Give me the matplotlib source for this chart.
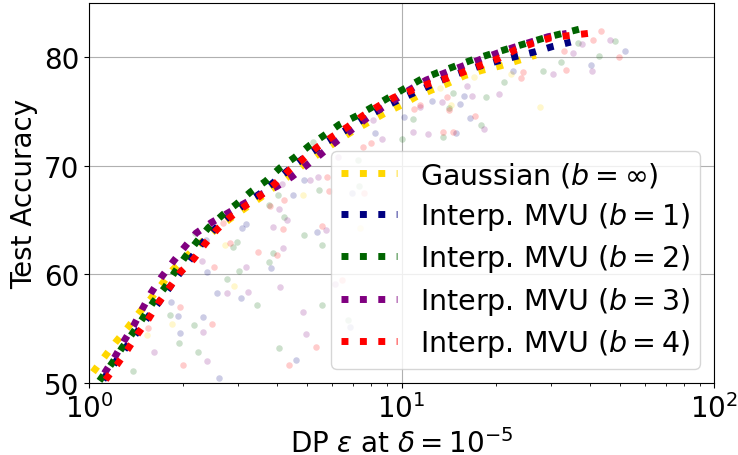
import matplotlib
matplotlib.use("Agg")
import matplotlib.pyplot as plt

# ---- main curves (epsilon, test accuracy) ----
gauss_eps = [1.03, 1.12, 1.22, 1.33, 1.44, 1.57, 1.71, 1.85, 2.04, 2.24, 2.51, 2.82, 3.16, 3.55,
             3.98, 4.47, 5.01, 5.62, 6.31, 7.08, 7.94, 8.91, 10.0, 11.2, 12.3, 14.1, 15.9, 18.1,
             20.7, 23.6, 26.9]
gauss_acc = [51.0, 52.4, 53.8, 55.1, 56.4, 57.7, 59.1, 60.4, 61.6, 62.7, 64.0, 65.1, 66.1, 67.1,
             68.2, 69.3, 70.4, 71.4, 72.4, 73.3, 74.1, 74.9, 75.6, 76.4, 76.9, 77.6, 78.3, 78.8,
             79.2, 79.7, 80.2]

mvu1_eps = [1.11, 1.20, 1.30, 1.41, 1.53, 1.66, 1.80, 1.95, 2.11, 2.29, 2.51, 2.82, 3.16, 3.55,
            3.98, 4.47, 5.01, 5.62, 6.31, 7.08, 7.94, 8.91, 10.0, 11.5, 13.2, 15.1, 17.4, 20.0,
            23.4, 26.7, 30.5, 34.8]
mvu1_acc = [50.3, 51.7, 53.1, 54.5, 55.9, 57.3, 58.7, 60.1, 61.4, 62.8, 64.1, 65.4, 66.5, 67.5,
            68.7, 69.9, 71.0, 72.0, 72.9, 73.8, 74.7, 75.5, 76.2, 77.0, 77.8, 78.5, 79.1, 79.6,
            80.1, 80.5, 81.0, 81.4]

mvu2_eps = [1.08, 1.19, 1.28, 1.38, 1.49, 1.61, 1.75, 1.88, 2.03, 2.21, 2.41, 2.68, 2.97, 3.29,
            3.68, 4.08, 4.56, 5.09, 5.65, 6.32, 7.19, 8.05, 9.12, 10.2, 11.6, 13.1, 14.9, 17.0,
            19.3, 22.0, 25.2, 28.8, 32.8, 37.2]
mvu2_acc = [50.2, 51.9, 53.3, 54.6, 56.0, 57.5, 58.8, 60.2, 61.6, 63.0, 64.3, 65.5, 66.5, 67.6,
            68.6, 69.8, 70.8, 71.9, 72.8, 73.8, 74.6, 75.4, 76.3, 77.1, 78.0, 78.6, 79.2, 79.8,
            80.3, 80.8, 81.3, 81.8, 82.2, 82.6]

mvu3_eps = [1.12, 1.21, 1.29, 1.39, 1.48, 1.58, 1.70, 1.85, 2.02, 2.20, 2.47, 2.76, 3.08, 3.51,
            3.99, 4.46, 4.94, 5.48, 6.10, 6.84, 7.59, 8.51, 9.42, 10.6, 12.0, 13.6, 15.4, 17.5,
            19.9, 22.8, 25.9, 29.5, 33.8]
mvu3_acc = [50.9, 52.4, 53.8, 55.3, 56.8, 58.3, 59.7, 61.1, 62.5, 63.8, 64.8, 65.6, 66.4, 67.3,
            68.1, 69.0, 70.0, 71.0, 72.1, 73.2, 74.2, 75.2, 76.0, 77.0, 77.9, 78.5, 79.1, 79.7,
            80.3, 80.9, 81.4, 81.9, 82.2]

mvu4_eps = [1.13, 1.23, 1.33, 1.43, 1.55, 1.67, 1.81, 1.96, 2.16, 2.35, 2.56, 2.81, 3.16, 3.52,
            3.92, 4.37, 4.83, 5.36, 6.01, 6.73, 7.50, 8.43, 9.46, 10.9, 12.3, 14.1, 16.0, 18.1,
            20.5, 23.2, 26.4, 30.1, 34.4, 39.6]
mvu4_acc = [50.3, 51.7, 53.1, 54.5, 55.9, 57.4, 58.8, 60.2, 61.4, 62.8, 64.1, 65.2, 66.3, 67.2,
            68.3, 69.6, 70.6, 71.7, 72.7, 73.6, 74.6, 75.5, 76.3, 77.0, 77.6, 78.1, 78.7, 79.3,
            79.9, 80.7, 81.3, 81.8, 82.0, 82.2]

# ---- faint scattered runs ----
gauss_sc_eps = [1.53, 1.85, 2.91, 2.73, 4.83, 7.37, 13.3, 14.4, 17.0, 22.4, 27.7]
gauss_sc_acc = [54.4, 55.4, 58.9, 62.7, 67.3, 64.3, 77.2, 75.6, 78.2, 78.5, 75.4]

mvu1_sc_eps = [2.61, 1.96, 1.92, 2.32, 1.83, 2.56, 3.06, 4.60, 2.38, 3.81, 3.08, 3.18, 5.37, 2.36,
               4.51, 4.88, 6.93, 8.25, 10.2, 12.5, 14.9, 15.4, 15.8, 16.6, 22.7, 40.3, 52.0, 6.85]
mvu1_sc_acc = [50.5, 54.6, 56.2, 56.1, 57.5, 58.3, 57.8, 52.1, 60.2, 60.6, 64.3, 64.6, 63.9, 63.2,
               67.3, 68.7, 67.5, 73.0, 74.5, 76.0, 73.0, 75.7, 76.4, 74.4, 78.7, 79.3, 80.6, 55.2]

mvu2_sc_eps = [1.38, 1.94, 2.24, 2.17, 1.82, 2.77, 3.44, 4.05, 5.58, 3.01, 3.77, 3.87, 2.98, 2.89,
               4.89, 5.58, 2.18, 4.21, 3.78, 4.03, 5.43, 5.22, 7.24, 7.33, 10.0, 10.9, 13.6, 14.2,
               14.6, 18.0, 18.7, 21.3, 28.4, 32.3, 36.7, 42.7, 48.1, 6.76]
mvu2_sc_acc = [51.1, 53.7, 52.9, 55.3, 56.3, 59.6, 57.2, 53.2, 57.2, 60.3, 61.1, 62.0, 63.0, 62.5,
               63.6, 62.7, 63.8, 65.3, 66.4, 67.3, 67.8, 72.2, 70.5, 68.1, 72.5, 74.3, 72.7, 75.3,
               76.7, 73.8, 76.3, 77.7, 78.7, 79.6, 81.3, 80.1, 81.5, 55.8]

mvu3_sc_eps = [1.61, 2.39, 2.31, 2.77, 3.23, 4.08, 4.84, 4.95, 2.30, 3.17, 4.17, 5.72, 2.49, 3.89,
               4.31, 4.06, 4.15, 5.39, 5.10, 6.26, 6.14, 8.11, 8.68, 10.9, 11.5, 12.2, 13.5, 16.2,
               16.8, 18.3, 20.5, 30.5, 35.5, 37.7, 40.6, 46.6]
mvu3_sc_acc = [52.9, 52.0, 54.7, 58.3, 58.4, 58.8, 56.5, 54.5, 61.2, 60.7, 62.4, 64.1, 64.6, 64.4,
               65.0, 66.0, 68.3, 69.0, 68.7, 70.8, 59.1, 74.2, 72.5, 73.1, 75.4, 72.9, 75.9, 77.4,
               76.4, 73.4, 76.6, 78.5, 80.4, 81.2, 78.7, 81.6]

mvu4_sc_eps = [2.00, 1.54, 2.47, 1.96, 5.31, 4.36, 2.52, 4.00, 3.47, 2.83, 4.17, 5.58, 2.68, 4.22,
               3.80, 5.86, 5.79, 6.47, 7.60, 7.52, 7.97, 11.0, 11.5, 13.6, 14.0, 14.2, 17.2, 14.6,
               24.1, 24.5, 33.0, 33.6, 41.1, 43.6, 49.7]
mvu4_sc_acc = [51.7, 55.1, 55.4, 57.0, 53.3, 51.7, 60.7, 61.8, 62.1, 62.9, 64.2, 64.5, 64.7, 66.9,
               66.3, 67.7, 69.0, 59.5, 67.5, 71.7, 72.1, 75.2, 75.6, 73.1, 76.3, 75.1, 74.6, 73.1,
               78.1, 78.6, 80.6, 78.8, 81.6, 82.4, 80.0]

labels = [r'Gaussian ($b = \infty$)', r'Interp. MVU ($b = 1$)', r'Interp. MVU ($b = 2$)',
          r'Interp. MVU ($b = 3$)', r'Interp. MVU ($b = 4$)']
colors = ['gold', 'navy', 'darkgreen', 'purple', 'red']

curves = [(gauss_eps, gauss_acc), (mvu1_eps, mvu1_acc), (mvu2_eps, mvu2_acc),
          (mvu3_eps, mvu3_acc), (mvu4_eps, mvu4_acc)]
scatters = [(gauss_sc_eps, gauss_sc_acc), (mvu1_sc_eps, mvu1_sc_acc), (mvu2_sc_eps, mvu2_sc_acc),
            (mvu3_sc_eps, mvu3_sc_acc), (mvu4_sc_eps, mvu4_sc_acc)]

fig = plt.figure(figsize=(7.38, 4.56), dpi=100)
ax = fig.add_axes([89 / 738, 1 - 384 / 456, (714 - 89) / 738, (384 - 4) / 456])

for (xs, ys), c in zip(scatters, colors):
    ax.scatter(xs, ys, s=22, color=c, alpha=0.2, linewidths=0, zorder=1)

for (xs, ys), c, lab in zip(curves, colors, labels):
    ax.plot(xs, ys, linestyle=':', linewidth=5, color=c, label=lab, zorder=2)

ax.set_xscale('log')
ax.set_xlim(1, 100)
ax.set_ylim(50, 85)
ax.set_yticks([50, 60, 70, 80])
ax.grid(True, which='major', color='#b0b0b0', linewidth=0.8)
ax.set_axisbelow(True)

fs = 20
ax.set_xlabel(r'DP $\epsilon$ at $\delta = 10^{-5}$', fontsize=fs)
ax.set_ylabel('Test Accuracy', fontsize=fs)
ax.tick_params(axis='both', which='major', labelsize=fs)
ax.legend(loc='lower right', fontsize=20.5, labelspacing=0.37, borderpad=0.33)

fig.savefig('out.png', dpi=100)
